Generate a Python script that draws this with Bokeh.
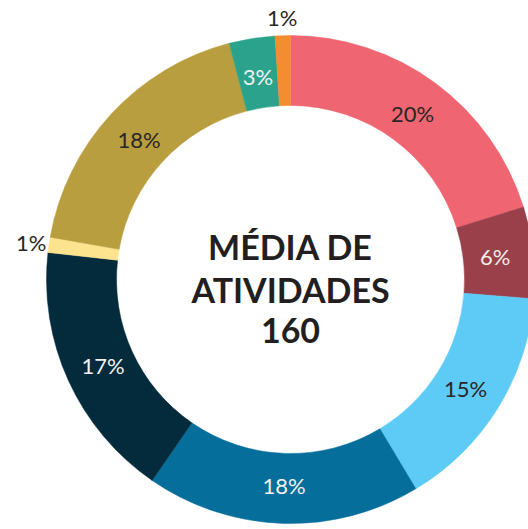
import numpy as np
from bokeh.plotting import figure
from bokeh.models import Range1d, ColumnDataSource
from bokeh.core.properties import value
from bokeh.embed import file_html
from bokeh.resources import INLINE

# Data (clockwise from 12 o'clock)
labels = ["20%", "6%", "15%", "18%", "17%", "1%", "18%", "3%", "1%"]
values = [20, 6, 15, 18, 17, 1, 18, 3, 1]
colors = ["#EF6672", "#9A404B", "#5DCBF5", "#066E9A", "#032B3B",
          "#FCE38E", "#B89E3E", "#2BA38C", "#F48C30"]
label_colors = ["#2a2526", "#F2ECEA", "#2a2526", "#F2F2F2", "#F2F2F2",
                "#2a2526", "#2a2526", "#F2F2F2", "#2a2526"]
label_outside = [False, False, False, False, False, True, False, False, True]
center_lines = ["MÉDIA DE", "ATIVIDADES", "160"]

W, H = 528, 529
cx, cy = 290, 529 - 279
R_out, R_in = 244, 174

p = figure(width=W, height=H, output_backend="svg", toolbar_location=None,
           x_range=Range1d(0, W), y_range=Range1d(529 - H, 529),
           min_border=0)
p.axis.visible = False
p.grid.visible = False
p.outline_line_color = None
p.background_fill_color = "white"
p.border_fill_color = "white"

vals = np.array(values, dtype=float)
frac = vals / vals.sum()
cum_end = np.cumsum(frac)
cum_start = cum_end - frac
start = np.pi / 2 - cum_start * 2 * np.pi
end = np.pi / 2 - cum_end * 2 * np.pi
mid = (start + end) / 2

src = ColumnDataSource(dict(start=start, end=end, color=colors))
p.annular_wedge(x=cx, y=cy, inner_radius=R_in, outer_radius=R_out,
                start_angle="start", end_angle="end", direction="clock",
                fill_color="color", line_color="color", line_width=0.5,
                source=src)

r_lab = np.where(label_outside, 262.0, 206.0)
lx = cx + r_lab * np.cos(mid)
ly = cy + r_lab * np.sin(mid)
lsrc = ColumnDataSource(dict(x=lx, y=ly, text=labels, color=label_colors))
p.text(x="x", y="y", text="text", source=lsrc, text_color="color",
       text_font=value("Lato"), text_font_size="22px",
       text_align="center", text_baseline="middle")

ys = [cy + 33, cy - 10, cy - 51]
p.text(x=[cx] * 3, y=ys, text=center_lines, text_color="#231F20",
       text_font=value("Lato"), text_font_style="bold", text_font_size="34px",
       text_align="center", text_baseline="middle")

open("out.html", "w").write(file_html(p, INLINE))
